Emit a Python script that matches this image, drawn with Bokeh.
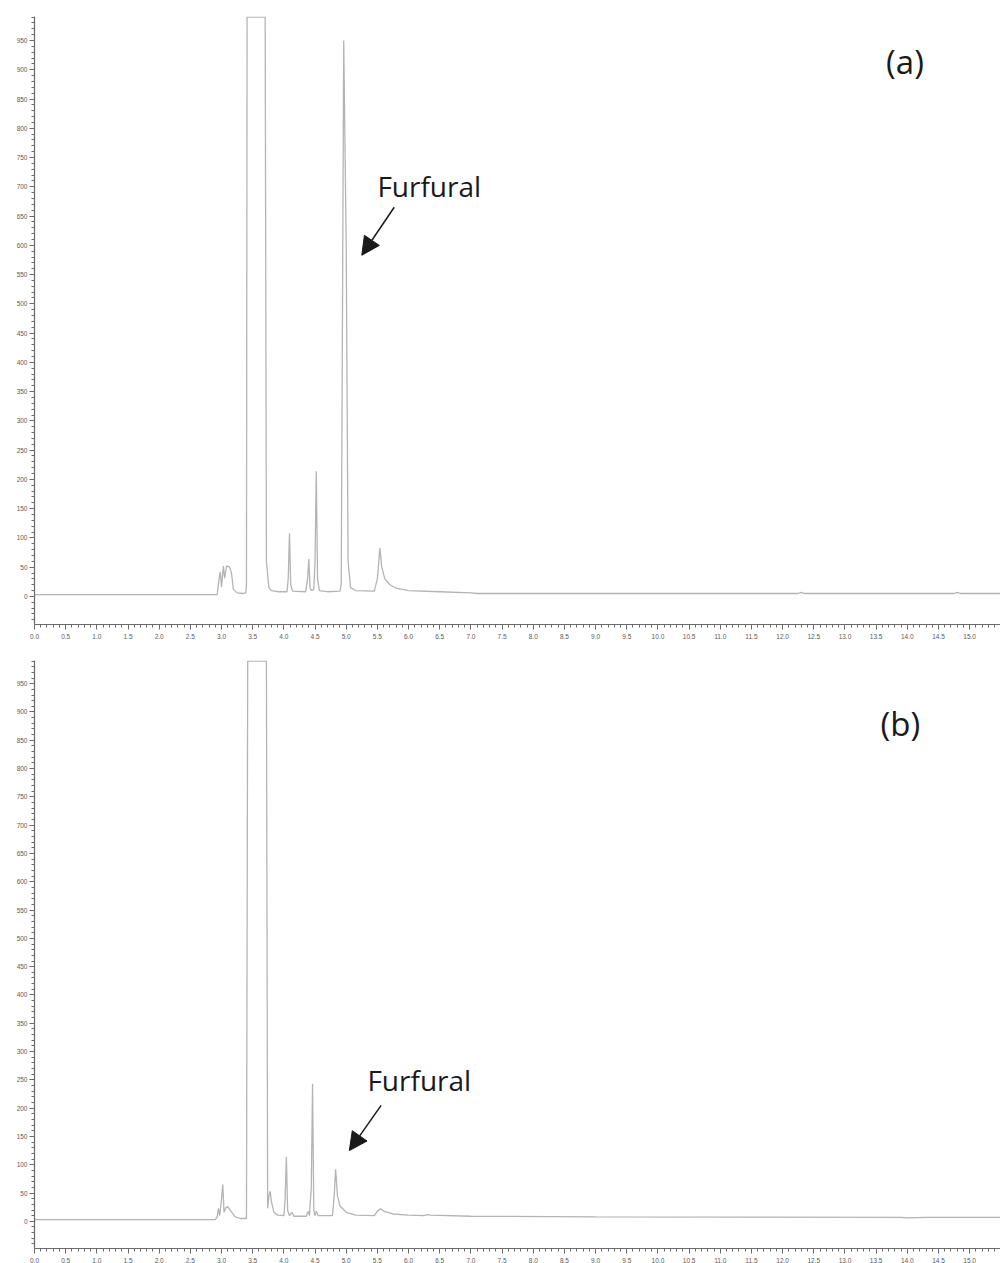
from bokeh.plotting import figure
from bokeh.layouts import column
from bokeh.models import (SingleIntervalTicker, PrintfTickFormatter, Range1d,
                          Label, Arrow, NormalHead)
from bokeh.embed import file_html
from bokeh.resources import INLINE

# ---- data (retention time in min, signal) ----
time_a = [0.0, 2.93, 2.96, 2.98, 3.00, 3.03, 3.05, 3.08, 3.13, 3.16, 3.19, 3.25,
          3.35, 3.39, 3.40, 3.41, 3.70, 3.72, 3.76, 3.80, 3.90, 4.05, 4.07, 4.09,
          4.11, 4.14, 4.35, 4.38, 4.40, 4.42, 4.44, 4.48, 4.50, 4.52, 4.54, 4.57,
          4.70, 4.90, 4.92, 4.96, 5.00, 5.03, 5.07, 5.15, 5.45, 5.50, 5.54, 5.57,
          5.62, 5.70, 5.80, 6.0, 6.5, 7.0, 7.1, 12.25, 12.3, 12.35, 14.75, 14.8,
          14.85, 15.6]
signal_a = [3, 3, 30, 42, 16, 52, 31, 52, 50, 40, 12, 6,
            5, 6, 20, 990, 990, 60, 15, 10, 8, 8, 30, 108,
            20, 9, 8, 30, 64, 15, 10, 12, 60, 214, 30, 10,
            8, 9, 20, 950, 600, 60, 15, 10, 9, 30, 83, 50,
            30, 20, 14, 10, 8, 6, 5, 5, 7, 5, 5, 7,
            5, 5]

time_b = [0.0, 2.90, 2.93, 2.95, 2.97, 3.00, 3.02, 3.04, 3.07, 3.10, 3.15, 3.22,
          3.30, 3.40, 3.42, 3.72, 3.74, 3.76, 3.78, 3.80, 3.84, 3.90, 4.00, 4.02,
          4.04, 4.06, 4.09, 4.13, 4.16, 4.36, 4.39, 4.41, 4.44, 4.46, 4.48, 4.50,
          4.52, 4.55, 4.78, 4.81, 4.83, 4.86, 4.90, 5.00, 5.15, 5.45, 5.50, 5.55,
          5.62, 5.75, 6.0, 6.25, 6.30, 6.35, 7.0, 9.0, 13.9, 14.0, 14.3, 15.6]
signal_b = [3, 3, 8, 23, 10, 40, 65, 16, 24, 26, 18, 8,
            5, 5, 990, 990, 23, 45, 53, 35, 16, 11, 10, 40,
            114, 20, 10, 16, 9, 9, 18, 10, 60, 243, 20, 10,
            18, 10, 10, 50, 92, 45, 27, 16, 11, 10, 18, 22,
            17, 13, 11, 10, 12, 11, 9, 8, 7, 6, 7, 7]

panel_tags = ["(a)", "(b)"]
peak_name = "Furfural"

AX = "#6a6a6a"
LINE = "#b4b4b4"


def make_panel(t, s, top, fh, bottom, tag, tag_pos, lab_pos, arr):
    p = figure(frame_width=966, frame_height=fh, min_border_left=34,
               min_border_right=0, min_border_top=top, min_border_bottom=bottom,
               output_backend="svg", toolbar_location=None,
               x_range=Range1d(0, 15.495), y_range=Range1d(-48, 991))
    p.outline_line_color = None
    p.xgrid.visible = False
    p.ygrid.visible = False
    p.background_fill_color = "white"
    p.border_fill_color = "white"

    p.line(t, s, line_color=LINE, line_width=1.3)

    p.xaxis.ticker = SingleIntervalTicker(interval=0.5, num_minor_ticks=5)
    p.xaxis.formatter = PrintfTickFormatter(format="%.1f")
    p.yaxis.ticker = SingleIntervalTicker(interval=50, num_minor_ticks=5)
    p.yaxis.formatter = PrintfTickFormatter(format="%d")
    for ax in (p.xaxis[0], p.yaxis[0]):
        ax.axis_line_color = AX
        ax.axis_line_width = 1.2
        ax.major_tick_line_color = AX
        ax.minor_tick_line_color = AX
        ax.major_tick_in = 0
        ax.minor_tick_in = 0
        ax.major_tick_out = 5
        ax.minor_tick_out = 3
        ax.major_label_text_font = "Liberation Sans"
        ax.major_label_text_font_size = "6.5px"
        ax.major_label_text_color = "#5a5a5a"
    p.xaxis.major_label_standoff = 4
    p.yaxis.major_label_standoff = 2

    p.add_layout(Label(x=tag_pos[0], y=tag_pos[1], text=tag,
                       text_font="Open Sans", text_font_size="33px",
                       text_color="#1a1a1a", text_baseline="middle"))
    p.add_layout(Label(x=lab_pos[0], y=lab_pos[1], text=peak_name,
                       text_font="Open Sans", text_font_size="28px",
                       text_color="#1a1a1a", text_baseline="alphabetic"))
    p.add_layout(Arrow(x_start=arr[0], y_start=arr[1], x_end=arr[2], y_end=arr[3],
                       line_color="#1a1a1a", line_width=1.5,
                       end=NormalHead(size=18, fill_color="#1a1a1a",
                                      line_color="#1a1a1a")))
    return p


p1 = make_panel(time_a, signal_a, 16, 608, 21, panel_tags[0],
                (13.66, 914), (5.50, 702), (5.77, 665, 5.25, 583))
p2 = make_panel(time_b, signal_b, 15, 588, 15, panel_tags[1],
                (13.57, 880), (5.34, 249), (5.56, 205, 5.05, 125))

layout = column(p1, p2, spacing=0)
open("out.html", "w").write(file_html(layout, INLINE))
